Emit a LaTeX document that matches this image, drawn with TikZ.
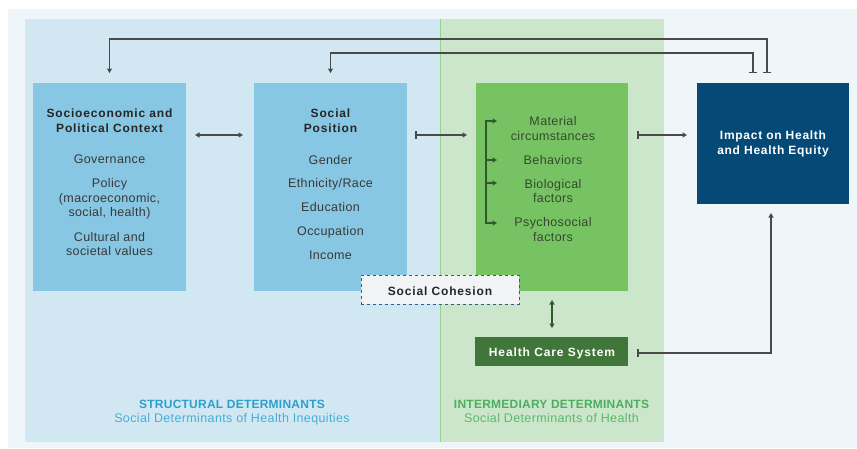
\documentclass[tikz,border=0pt]{standalone}
\usepackage{fontspec}
\setmainfont{Liberation Sans}
\usetikzlibrary{arrows.meta,calc}
\definecolor{outerbg}{HTML}{EEF6FA}
\definecolor{bluebg}{HTML}{D1E8F2}
\definecolor{greenbg}{HTML}{CBE6CB}
\definecolor{bluebox}{HTML}{88C7E3}
\definecolor{greenbox}{HTML}{77C364}
\definecolor{navybox}{HTML}{054A76}
\definecolor{hcsbox}{HTML}{41763A}
\definecolor{cohfill}{HTML}{F1F3F5}
\definecolor{cohline}{HTML}{2C5F8A}
\definecolor{arrowc}{HTML}{4A4A4A}
\definecolor{brgreen}{HTML}{2E5A2B}
\definecolor{bodytxt}{HTML}{383838}
\definecolor{greentxt}{HTML}{34492F}
\definecolor{strucA}{HTML}{2E9FCB}
\definecolor{strucB}{HTML}{4AADD7}
\definecolor{interA}{HTML}{4CAE60}
\definecolor{interB}{HTML}{5CB96B}
\begin{document}
\begin{tikzpicture}[x=1pt,y=-1pt,
  boxsh/.style={draw=none,inner sep=0pt,outer sep=0pt,rectangle},
  bodyt/.style={font=\fontsize{12.5}{14}\selectfont\addfontfeatures{LetterSpace=3},text=bodytxt,inner sep=0pt,anchor=base},
  greent/.style={bodyt,text=greentxt},
  headt/.style={font=\fontsize{12}{14}\selectfont\bfseries\addfontfeatures{LetterSpace=7},text=black!85,inner sep=0pt,anchor=base},
  whitet/.style={headt,text=white},
  conn/.style={draw=arrowc,line width=1.3pt},
  tiparr/.style={-{Triangle[length=4.5pt,width=5pt]}},
  teearr/.style={{Bar[width=8pt,line width=1.5pt]}-{Triangle[length=4.5pt,width=5pt]}},
  dblarr/.style={{Triangle[length=4.5pt,width=5pt]}-{Triangle[length=4.5pt,width=5pt]}},
]
\useasboundingbox (0,0) rectangle (857,448);
\fill[white] (0,0) rectangle (857,448);
\fill[outerbg] (8,9) rectangle (857,448);
\fill[bluebg] (25,19) rectangle (440,442);
\fill[greenbg] (440,19) rectangle (664,442);
\draw[greenbox!60!greenbg,line width=0.8pt] (440.4,19) -- (440.4,442);

% boxes
\node[boxsh,fill=bluebox,minimum width=153pt,minimum height=208pt] (se) at (109.5,187) {};
\node[boxsh,fill=bluebox,minimum width=153pt,minimum height=208pt] (sp) at (330.5,187) {};
\node[boxsh,fill=greenbox,minimum width=152pt,minimum height=208pt] (im) at (552,187) {};
\node[boxsh,fill=navybox,minimum width=152pt,minimum height=121pt] (ih) at (773,143.5) {};
\node[boxsh,fill=cohfill,draw=cohline,dashed,line width=0.9pt,minimum width=158pt,minimum height=29pt] (sc) at (440,289.5) {};
\node[boxsh,fill=hcsbox,minimum width=153pt,minimum height=29pt] (hc) at (551.5,351.5) {};

% box 1 text
\node[headt] (se1) at (109.5,117) {Socioeconomic and};
\node[headt] (se2) at (109.5,132) {Political Context};
\node[bodyt] (se3) at (109.5,163) {Governance};
\node[bodyt] (se4) at (109.5,187) {Policy};
\node[bodyt] (se5) at (109.5,202) {(macroeconomic,};
\node[bodyt] (se6) at (109.5,216) {social, health)};
\node[bodyt] (se7) at (109.5,241) {Cultural and};
\node[bodyt] (se8) at (109.5,255) {societal values};

% box 2 text
\node[headt] (sp1) at (330.5,117) {Social};
\node[headt] (sp2) at (330.5,132) {Position};
\node[bodyt] (sp3) at (330.5,164) {Gender};
\node[bodyt] (sp4) at (330.5,187) {Ethnicity/Race};
\node[bodyt] (sp5) at (330.5,211) {Education};
\node[bodyt] (sp6) at (330.5,235) {Occupation};
\node[bodyt] (sp7) at (330.5,259) {Income};

% green box text
\node[greent] (im1) at (553,125) {Material};
\node[greent] (im2) at (553,140) {circumstances};
\node[greent] (im3) at (553,164) {Behaviors};
\node[greent] (im4) at (553,188) {Biological};
\node[greent] (im5) at (553,202) {factors};
\node[greent] (im6) at (553,226) {Psychosocial};
\node[greent] (im7) at (553,241) {factors};

% impact text
\node[whitet,font=\fontsize{12}{14}\selectfont\bfseries\addfontfeatures{LetterSpace=6}] (ih1) at (773,139.5) {Impact on Health};
\node[whitet,font=\fontsize{12}{14}\selectfont\bfseries\addfontfeatures{LetterSpace=6}] (ih2) at (773,154.5) {and Health Equity};

% cohesion, hcs
\node[headt,font=\fontsize{12}{14}\selectfont\bfseries\addfontfeatures{LetterSpace=7}] (sct) at (440,295.5) {Social Cohesion};
\node[whitet,font=\fontsize{12}{14}\selectfont\bfseries\addfontfeatures{LetterSpace=7.5}] (hct) at (552,356.5) {Health Care System};

% bottom labels
\node[inner sep=0pt,anchor=base,text=strucA,font=\fontsize{12}{12}\selectfont\bfseries\addfontfeatures{LetterSpace=2}] (st1) at (232,408.5) {STRUCTURAL DETERMINANTS};
\node[inner sep=0pt,anchor=base,text=strucB,font=\fontsize{12.5}{12}\selectfont\addfontfeatures{LetterSpace=3}] (st2) at (232,422.5) {Social Determinants of Health Inequities};
\node[inner sep=0pt,anchor=base,text=interA,font=\fontsize{12}{12}\selectfont\bfseries\addfontfeatures{LetterSpace=2}] (in1) at (551.5,408.5) {INTERMEDIARY DETERMINANTS};
\node[inner sep=0pt,anchor=base,text=interB,font=\fontsize{12.5}{12}\selectfont\addfontfeatures{LetterSpace=3}] (in2) at (551.5,422.5) {Social Determinants of Health};

% connectors
\draw[conn,dblarr] ($(se.north east)+(9,52)$) -- ($(sp.north west)+(-11,52)$);
\draw[conn,teearr] ($(sp.north east)+(8,52)$) -- ($(im.north west)+(-9,52)$);
\draw[conn,teearr] ($(im.north east)+(9,52)$) -- ($(ih.north west)+(-10,52)$);
\draw[conn,teearr] ($(ih.north)+(-6,-10)$) |- ($(se.north)+(0,-44)$) -- ($(se.north)+(0,-10)$);
\draw[conn,teearr] ($(ih.north)+(-20,-10)$) |- ($(sp.north)+(0,-30)$) -- ($(sp.north)+(0,-10)$);
\draw[conn,teearr] ($(hc.east)+(9,1.5)$) -| ($(ih.south)+(-2,9)$);
\draw[draw=brgreen,line width=1.3pt,dblarr] ($(im.south)+(0,9)$) -- ($(hc.north)+(0.5,-9)$);

% bracket in green box
\coordinate (brt) at ($(im.north west)+(10,38)$);
\coordinate (brb) at ($(im.north west)+(10,140)$);
\draw[draw=brgreen,line width=1.3pt,tiparr] (brb) -- (brt) -- ++(11,0);
\draw[draw=brgreen,line width=1.3pt,tiparr] (brt) -- (brb) -- ++(11,0);
\draw[draw=brgreen,line width=1.3pt,tiparr] ($(brt)+(0,39)$) -- ++(11,0);
\draw[draw=brgreen,line width=1.3pt,tiparr] ($(brt)+(0,62)$) -- ++(11,0);
\end{tikzpicture}
\end{document}
